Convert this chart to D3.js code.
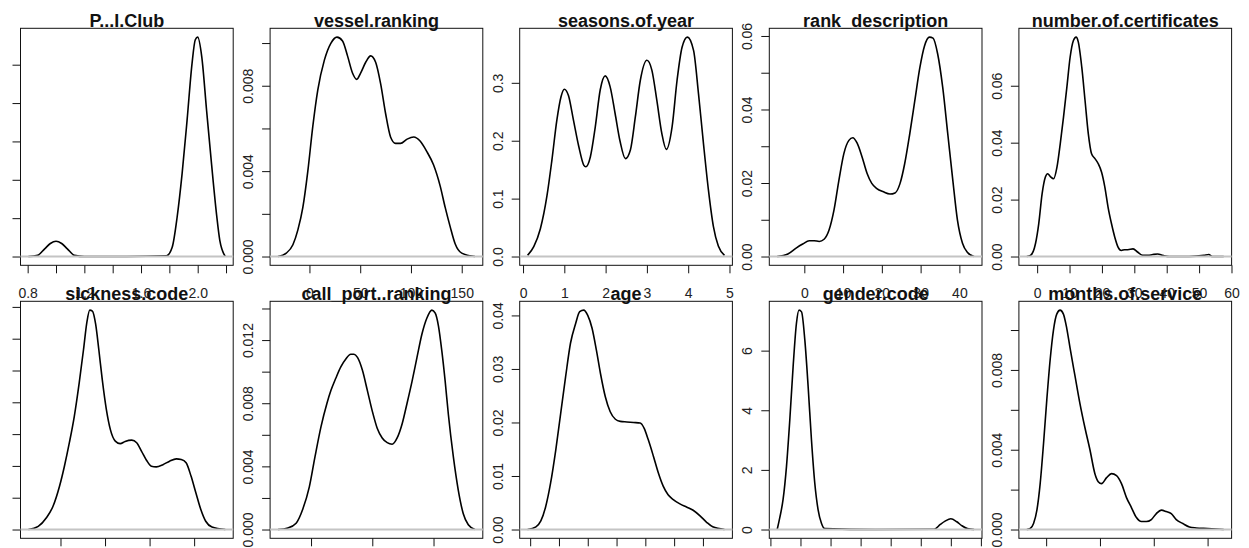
<!DOCTYPE html>
<meta charset="utf-8">
<style>
body { margin: 0; background: #fff; }
.box { fill: none; stroke: #111; stroke-width: 1px; }
.density { fill: none; stroke: #000; stroke-width: 1.6px; }
.zero { stroke: #c4c4c4; stroke-width: 2px; }
.title { font: bold 18px "Liberation Sans", Arial, sans-serif; fill: #111; }
.axis text { font: 14px "Liberation Sans", Arial, sans-serif; fill: #222; }
.axis line { stroke: #111; }
</style>
<body>
<script src="https://d3js.org/d3.v7.min.js"></script>
<script>

// panel titles, in plotting order (2 rows x 5 columns)
var titles = ["P...I.Club", "vessel.ranking", "seasons.of.year", "rank_description", "number.of.certificates",
              "sickness.code", "call_port..ranking", "age", "gender.code", "months.of.service"];

// density curves (x, density)
var piClubX = [0.805, 0.87, 0.92, 0.96, 1.0, 1.04, 1.08, 1.13, 1.2, 1.5, 1.78, 1.82, 1.855, 1.89, 1.925, 1.96, 1.983, 2.0, 2.029, 2.063, 2.098, 2.133, 2.156, 2.195];
var piClubDensity = [0, 0.03, 0.2, 0.34, 0.40, 0.34, 0.2, 0.03, 0, 0, 0.02, 0.24, 1.03, 2.16, 3.55, 5.03, 5.65, 5.72, 5.2, 3.8, 2.4, 1.1, 0.42, 0];

var vesselX = [-31, -22.8, -16.3, -11.4, -6.5, -1.6, 3.3, 8.2, 14.7, 21.2, 27.1, 32.6, 37.5, 42.4, 46.6, 50.5, 55.4, 60.3, 65.2, 70.1, 75, 79.9, 84.8, 89.7, 96.2, 102.7, 109.2, 115.8, 122.2, 128.8, 133.7, 138.6, 143.5, 150, 163];
var vesselDensity = [0, 0.00016, 0.00055, 0.00125, 0.0023, 0.0040, 0.0061, 0.0078, 0.0092, 0.0100, 0.01028, 0.0101, 0.0094, 0.0086, 0.0083, 0.0086, 0.0091, 0.0094, 0.0091, 0.0081, 0.0067, 0.0056, 0.0053, 0.0053, 0.0055, 0.0056, 0.0054, 0.0049, 0.0043, 0.0033, 0.0023, 0.0014, 0.0006, 0.00016, 0];

var seasonsX = [0.11, 0.26, 0.42, 0.58, 0.70, 0.82, 0.92, 1.0, 1.10, 1.22, 1.35, 1.47, 1.52, 1.63, 1.75, 1.87, 1.99, 2.11, 2.23, 2.35, 2.48, 2.60, 2.72, 2.84, 3.0, 3.12, 3.24, 3.36, 3.47, 3.61, 3.73, 3.85, 3.98, 4.13, 4.25, 4.37, 4.49, 4.61, 4.73, 4.88];
var seasonsDensity = [0.002, 0.017, 0.048, 0.105, 0.167, 0.236, 0.276, 0.289, 0.278, 0.236, 0.190, 0.158, 0.155, 0.172, 0.224, 0.288, 0.312, 0.293, 0.247, 0.199, 0.169, 0.184, 0.241, 0.304, 0.339, 0.322, 0.270, 0.213, 0.185, 0.224, 0.304, 0.361, 0.379, 0.356, 0.281, 0.195, 0.115, 0.052, 0.018, 0.002];

var rankX = [-7.0, -4.24, -2.12, -0.42, 1.28, 2.55, 3.83, 5.10, 6.38, 7.65, 8.93, 10.2, 11.5, 12.5, 13.6, 14.9, 16.2, 17.4, 18.7, 20.4, 22.1, 23.4, 24.7, 25.9, 27.2, 28.5, 29.8, 31.0, 32.3, 33.2, 34.4, 35.7, 37.0, 38.3, 39.5, 40.8, 42.1, 43.8];
var rankDensity = [0, 0.0007, 0.0023, 0.0034, 0.0043, 0.0043, 0.0041, 0.0047, 0.0072, 0.0126, 0.0208, 0.0280, 0.0316, 0.0323, 0.0309, 0.0271, 0.0226, 0.0199, 0.0185, 0.0176, 0.0170, 0.0173, 0.0199, 0.0253, 0.0334, 0.0424, 0.0514, 0.0573, 0.0597, 0.0594, 0.0551, 0.0460, 0.0334, 0.0208, 0.0099, 0.0036, 0.0011, 0];

var certX = [-3.2, -2.05, -0.52, 0.49, 1.53, 2.54, 3.25, 4.07, 5.08, 6.12, 7.13, 8.14, 9.18, 10.19, 11.2, 12.03, 12.7, 13.77, 14.78, 15.8, 16.8, 17.85, 18.86, 19.9, 20.9, 21.9, 22.96, 23.97, 24.98, 26.0, 27.0, 28.0, 29.6, 31.1, 32.6, 34.2, 35.7, 37.2, 38.8, 40.8, 46.9, 51.5, 53.0, 54.1, 57.6];
var certDensity = [0, 0.0004, 0.0045, 0.0115, 0.0220, 0.0279, 0.0291, 0.0281, 0.0273, 0.0314, 0.0396, 0.0490, 0.0595, 0.0701, 0.0759, 0.0771, 0.0754, 0.0666, 0.0549, 0.0431, 0.0361, 0.0344, 0.0326, 0.0296, 0.0244, 0.0173, 0.0115, 0.0068, 0.0033, 0.0021, 0.0024, 0.0024, 0.0027, 0.0015, 0.0004, 0.0004, 0.0007, 0.0009, 0.0004, 0, 0, 0.0004, 0.0007, 0, 0];

var sicknessX = [2.79, 5.0, 6.84, 8.32, 9.78, 10.88, 11.99, 13.1, 14.2, 15.17, 15.9, 16.57, 17.16, 17.9, 18.6, 19.37, 20.3, 21.2, 22.3, 23.4, 24.5, 26.0, 27.1, 28.2, 29.3, 30.4, 31.5, 33.0, 34.5, 36.0, 37.1, 38.2, 39.3, 40.4, 41.5, 42.6, 44.0, 47.0];
var sicknessDensity = [0, 0.0010, 0.0037, 0.0073, 0.0136, 0.0199, 0.0273, 0.0356, 0.0461, 0.0566, 0.0650, 0.0690, 0.0687, 0.0645, 0.0566, 0.0472, 0.0377, 0.0314, 0.0278, 0.0270, 0.0277, 0.0281, 0.0273, 0.0246, 0.0218, 0.0199, 0.0197, 0.0204, 0.0215, 0.0222, 0.0220, 0.0210, 0.0168, 0.0115, 0.0063, 0.0026, 0.0008, 0];

var callPortX = [23.0, 31.1, 37.8, 43.3, 48.6, 53.2, 58.1, 63.0, 66.2, 70.3, 74.3, 78.4, 82.4, 85.1, 87.9, 91.9, 96.0, 100, 104.1, 108.1, 112.2, 116.2, 120.3, 124.4, 128.4, 132.5, 136.5, 140.6, 144.6, 148.7, 151.4, 154.0, 156.8, 159.5, 162.1, 166.2, 170.2, 174.3, 178.4, 183.8];
var callPortDensity = [0, 0.0001, 0.0004, 0.0013, 0.0027, 0.0046, 0.0065, 0.0080, 0.0088, 0.0096, 0.0103, 0.0108, 0.0111, 0.0111, 0.0109, 0.0101, 0.0088, 0.0075, 0.0064, 0.0058, 0.0055, 0.0054, 0.0058, 0.0067, 0.0080, 0.0094, 0.0109, 0.0124, 0.0134, 0.0139, 0.0137, 0.0129, 0.0113, 0.0094, 0.0073, 0.0046, 0.0025, 0.0010, 0.0003, 0];

var ageX = [19.1, 22.0, 23.7, 25.4, 27.1, 28.9, 30.6, 32.3, 34.0, 35.8, 37.2, 38.6, 40.0, 41.5, 43.0, 44.4, 46.1, 47.8, 49.6, 51.3, 53.6, 55.9, 58.2, 59.6, 61.0, 62.8, 64.5, 66.2, 67.9, 69.7, 72.0, 74.3, 76.6, 78.9, 81.2, 83.4, 87.5];
var ageDensity = [0, 0.0005, 0.0016, 0.0043, 0.0087, 0.0149, 0.0217, 0.0285, 0.0348, 0.0385, 0.0407, 0.0410, 0.0400, 0.0376, 0.0335, 0.0292, 0.0248, 0.0220, 0.0206, 0.0202, 0.0201, 0.0200, 0.0199, 0.0189, 0.0168, 0.0137, 0.0106, 0.0081, 0.0065, 0.0056, 0.0048, 0.0042, 0.0036, 0.0026, 0.0014, 0.0005, 0];

var genderX = [0.845, 0.862, 0.884, 0.907, 0.929, 0.951, 0.973, 0.99, 1.007, 1.029, 1.051, 1.073, 1.095, 1.117, 1.14, 1.162, 1.5, 1.89, 1.93, 1.962, 2.0, 2.04, 2.073, 2.11, 2.155];
var genderDensity = [0, 0.39, 1.0, 2.12, 3.68, 5.46, 6.91, 7.36, 7.3, 6.35, 4.79, 3.01, 1.56, 0.67, 0.2, 0.03, 0, 0.01, 0.17, 0.28, 0.36, 0.26, 0.13, 0.03, 0];

var monthsX = [-36, -29.6, -23.4, -17.2, -11.1, -4.9, 1.2, 7.4, 13.6, 19.7, 25.9, 32.1, 38.2, 44.4, 53.6, 62.9, 72.1, 81.4, 90.6, 96.8, 103.0, 112.3, 121.5, 130.8, 140.0, 149.3, 158.5, 167.8, 177.0, 186.3, 195.5, 204.8, 214.0, 223.3, 232.5, 241.8, 254.0, 266.3, 278.7, 300.2, 330];
var monthsDensity = [0, 0.00005, 0.0003, 0.00097, 0.0023, 0.0043, 0.0065, 0.0085, 0.0100, 0.0108, 0.0110, 0.0108, 0.0101, 0.0091, 0.0077, 0.0063, 0.0051, 0.0040, 0.0028, 0.0024, 0.0023, 0.0026, 0.0028, 0.0027, 0.0023, 0.0016, 0.0011, 0.0006, 0.0004, 0.0004, 0.0005, 0.0008, 0.00097, 0.0009, 0.0008, 0.0005, 0.0003, 0.00013, 0.00008, 0.00005, 0];

// tick positions per panel and the labels R kept (labels off the picture left out)
var xTicks = [
  [0.8, 1.0, 1.2, 1.4, 1.6, 1.8, 2.0, 2.2], [0, 50, 100, 150], [0, 1, 2, 3, 4, 5], [0, 10, 20, 30, 40], [0, 10, 20, 30, 40, 50, 60],
  [10, 20, 30, 40], [50, 100, 150], [20, 30, 40, 50, 60, 70, 80], [0.8, 1.0, 1.2, 1.4, 1.6, 1.8, 2.0, 2.2], [0, 100, 200, 300]
];
var xLabels = [
  ["0.8", "1.2", "1.6", "2.0"], ["0", "50", "100", "150"], ["0", "1", "2", "3", "4", "5"], ["0", "10", "20", "30", "40"], ["0", "10", "20", "30", "40", "50", "60"],
  [], [], [], [], []
];
var yTicks = [
  [0, 1, 2, 3, 4, 5], [0, 0.002, 0.004, 0.006, 0.008, 0.010], [0, 0.1, 0.2, 0.3], [0, 0.01, 0.02, 0.03, 0.04, 0.05, 0.06], [0, 0.02, 0.04, 0.06],
  [0, 0.01, 0.02, 0.03, 0.04, 0.05, 0.06, 0.07], [0, 0.002, 0.004, 0.006, 0.008, 0.010, 0.012, 0.014], [0, 0.01, 0.02, 0.03, 0.04], [0, 2, 4, 6], [0, 0.002, 0.004, 0.006, 0.008, 0.010]
];
var yLabels = [
  [], ["0.000", "0.004", "0.008"], ["0.0", "0.1", "0.2", "0.3"], ["0.00", "0.02", "0.04", "0.06"], ["0.00", "0.02", "0.04", "0.06"],
  [], ["0.000", "0.004", "0.008", "0.012"], ["0.00", "0.01", "0.02", "0.03", "0.04"], ["0", "2", "4", "6"], ["0.000", "0.004", "0.008"]
];

var curvesX = [piClubX, vesselX, seasonsX, rankX, certX, sicknessX, callPortX, ageX, genderX, monthsX];
var curvesY = [piClubDensity, vesselDensity, seasonsDensity, rankDensity, certDensity, sicknessDensity, callPortDensity, ageDensity, genderDensity, monthsDensity];

// layout of the 2 x 5 grid
var width = 1249, height = 548;
var left0 = 20.5, top0 = 28.3;
var colStep = 249.6, rowStep = 273;
var boxW = 212.7, boxH = 237;

var svg = d3.select("body").append("svg")
    .attr("width", width)
    .attr("height", height);

svg.append("rect").attr("width", width).attr("height", height).attr("fill", "#fff");

function labelFormat(labels) {
  var lookup = {};
  labels.forEach(function(s) { lookup[+s] = s; });
  return function(d) { return lookup[d] !== undefined ? lookup[d] : ""; };
}

titles.forEach(function(title, i) {
  var col = i % 5, row = Math.floor(i / 5);
  var g = svg.append("g")
      .attr("transform", "translate(" + (left0 + col * colStep) + "," + (top0 + row * rowStep) + ")");

  var data = curvesX[i].map(function(v, k) { return {x: v, y: curvesY[i][k]}; });

  // R pads both axes by 4% of the range
  var xr = d3.extent(data, function(d) { return d.x; });
  var pad = (xr[1] - xr[0]) * 0.04;
  var x = d3.scaleLinear().domain([xr[0] - pad, xr[1] + pad]).range([0, boxW]);
  var ymax = d3.max(data, function(d) { return d.y; });
  var y = d3.scaleLinear().domain([-ymax * 0.04, ymax * 1.04]).range([boxH, 0]);

  // x axis
  var xa = g.append("g")
      .attr("class", "axis")
      .attr("transform", "translate(0," + boxH + ")")
      .call(d3.axisBottom(x).tickValues(xTicks[i]).tickSize(8).tickSizeOuter(0).tickFormat(labelFormat(xLabels[i])));
  xa.select(".domain").remove();
  xa.selectAll("text").attr("y", 28).attr("dy", "0.35em");

  // y axis, labels parallel to the axis
  var ya = g.append("g")
      .attr("class", "axis")
      .call(d3.axisLeft(y).tickValues(yTicks[i]).tickSize(8).tickSizeOuter(0).tickFormat(labelFormat(yLabels[i])));
  ya.select(".domain").remove();
  ya.selectAll("text")
      .attr("transform", "rotate(-90)")
      .attr("x", 0)
      .attr("y", -22)
      .attr("dy", "0.35em")
      .attr("text-anchor", "middle");

  g.append("rect")
      .attr("class", "box")
      .attr("width", boxW)
      .attr("height", boxH);

  g.append("text")
      .attr("class", "title")
      .attr("x", boxW / 2)
      .attr("y", -1.5)
      .attr("text-anchor", "middle")
      .text(title);

  var line = d3.line()
      .curve(d3.curveMonotoneX)
      .x(function(d) { return x(d.x); })
      .y(function(d) { return y(d.y); });

  g.append("path")
      .datum(data)
      .attr("class", "density")
      .attr("d", line);

  // zero line drawn over the curve, as plot.density does
  g.append("line")
      .attr("class", "zero")
      .attr("x1", 0).attr("x2", boxW)
      .attr("y1", y(0)).attr("y2", y(0));
});

</script>
</body>
